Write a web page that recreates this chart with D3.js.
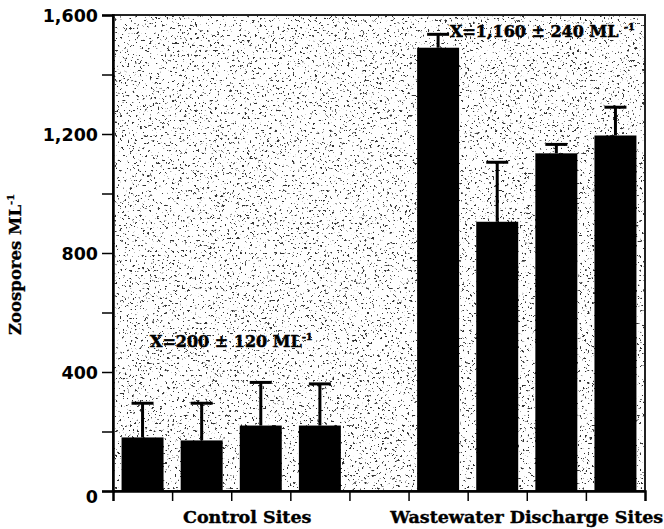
<!DOCTYPE html>
<html><head><meta charset="utf-8">
<script src="https://cdn.jsdelivr.net/npm/d3@7"></script>
<style>body{margin:0;background:#fff}</style>
</head><body><svg id="c" width="664" height="529"></svg>
<script>
// ---- data ----
const sites = ["Control 1","Control 2","Control 3","Control 4","gap","Wastewater 1","Wastewater 2","Wastewater 3","Wastewater 4"];
const means = [180, 170, 220, 220, null, 1490, 905, 1135, 1195];
const errors = [115, 125, 145, 140, null, 45, 200, 30, 95];
const majorTicks = [0, 400, 800, 1200, 1600];
const minorTicks = [200, 600, 1000, 1400];
const groupLabels = ["Control Sites", "Wastewater Discharge Sites"];
const meanLabels = ["X=200 ± 120 ML", "X=1,160 ± 240 ML"];
const yTitle = "Zoospores ML";

// ---- layout ----
const L = 113, R = 645, T = 15, B = 491;
const svg = d3.select("#c");
const serif = "'DejaVu Serif', serif";
const sans = "'DejaVu Sans', sans-serif";

const y = d3.scaleLinear().domain([0, 1600]).range([B, T]);
const x = d3.scaleBand().domain(sites).range([L, R]).paddingInner(0.29).paddingOuter(0.145);
const xi = d3.scaleLinear().domain([0, sites.length]).range([L, R]);

const defs = svg.append("defs");
const f = defs.append("filter").attr("id", "spk").attr("x", 0).attr("y", 0).attr("width", 1).attr("height", 1);
f.append("feTurbulence").attr("type", "fractalNoise").attr("baseFrequency", 0.4).attr("numOctaves", 3).attr("seed", 7);
f.append("feColorMatrix").attr("type", "matrix")
  .attr("values", "0 0 0 0 0  0 0 0 0 0  0 0 0 0 0  -14 0 0 0 5.0");

// speckled background
svg.append("rect").attr("x", L).attr("y", T).attr("width", R - L).attr("height", B - T)
  .attr("fill", "#fff").attr("filter", "url(#spk)").attr("opacity", 0.8);

// frame
svg.append("rect").attr("x", L).attr("y", T).attr("width", R - L).attr("height", B - T)
  .attr("fill", "none").attr("stroke", "#222").attr("stroke-width", 2);

const data = sites.map((s, i) => ({ s, m: means[i], e: errors[i] })).filter(d => d.m != null);

// bars
svg.append("g").selectAll("rect").data(data).join("rect")
  .attr("x", d => x(d.s)).attr("width", x.bandwidth())
  .attr("y", d => y(d.m)).attr("height", d => y(0) - y(d.m))
  .attr("fill", "#000");

// error bars
const eg = svg.append("g").attr("stroke", "#000").attr("stroke-width", 3);
eg.selectAll("line.v").data(data).join("line").attr("class", "v")
  .attr("x1", d => x(d.s) + x.bandwidth() / 2).attr("x2", d => x(d.s) + x.bandwidth() / 2)
  .attr("y1", d => y(d.m)).attr("y2", d => y(d.m + d.e));
eg.selectAll("line.c").data(data).join("line").attr("class", "c")
  .attr("x1", d => x(d.s) + x.bandwidth() / 2 - 11).attr("x2", d => x(d.s) + x.bandwidth() / 2 + 11)
  .attr("y1", d => y(d.m + d.e)).attr("y2", d => y(d.m + d.e));

// y axis
const ya = svg.append("g").attr("transform", `translate(${L},0)`)
  .call(d3.axisLeft(y).tickValues(majorTicks).tickSize(11).tickPadding(4).tickFormat(d3.format(",")));
ya.select(".domain").attr("stroke", "#000").attr("stroke-width", 2.5);
ya.selectAll(".tick line").attr("stroke", "#000").attr("stroke-width", 1.5);
ya.selectAll(".tick text").attr("font-family", sans).attr("font-weight", "bold").attr("font-size", 17.5).attr("fill", "#000")
  .attr("dy", d => d === 0 ? "0.65em" : "0.35em");
const ym = svg.append("g").attr("transform", `translate(${L},0)`)
  .call(d3.axisLeft(y).tickValues(minorTicks).tickSize(11).tickFormat(""));
ym.select(".domain").remove();
ym.selectAll(".tick line").attr("stroke", "#000").attr("stroke-width", 1.5);

// x axis
const xa = svg.append("g").attr("transform", `translate(0,${B})`)
  .call(d3.axisBottom(xi).tickValues(d3.range(1, sites.length)).tickSize(10).tickFormat(""));
xa.select(".domain").attr("stroke", "#000").attr("stroke-width", 2.5);
xa.selectAll(".tick line").attr("stroke", "#000").attr("stroke-width", 1.5);

// group labels
svg.append("g").selectAll("text").data(groupLabels).join("text")
  .attr("x", (d, i) => i === 0 ? xi(2.27) : xi(7))
  .attr("y", 523).attr("text-anchor", "middle")
  .attr("font-family", serif).attr("font-weight", "bold").attr("font-size", 17.5).attr("fill", "#000")
  .attr("stroke", "#000").attr("stroke-width", 0.4)
  .text(d => d);

// mean labels
const mpos = [[150, 347, ""], [450, 37, " "]];
meanLabels.forEach((t, i) => {
  const tx = svg.append("text").attr("x", mpos[i][0]).attr("y", mpos[i][1])
    .attr("font-family", serif).attr("font-weight", "bold").attr("font-size", 16).attr("fill", "#000")
    .attr("stroke", "#000").attr("stroke-width", 0.5);
  tx.append("tspan").text(t + mpos[i][2]);
  tx.append("tspan").attr("font-size", 10).attr("dy", -7).text("-1");
});

// y title
const yt = svg.append("text").attr("transform", "translate(21,335) rotate(-90)")
  .attr("font-family", serif).attr("font-weight", "bold").attr("font-size", 16.5).attr("fill", "#000")
  .attr("stroke", "#000").attr("stroke-width", 0.3);
yt.append("tspan").text(yTitle);
yt.append("tspan").attr("font-size", 10).attr("dy", -7).text("-1");
</script></body></html>
